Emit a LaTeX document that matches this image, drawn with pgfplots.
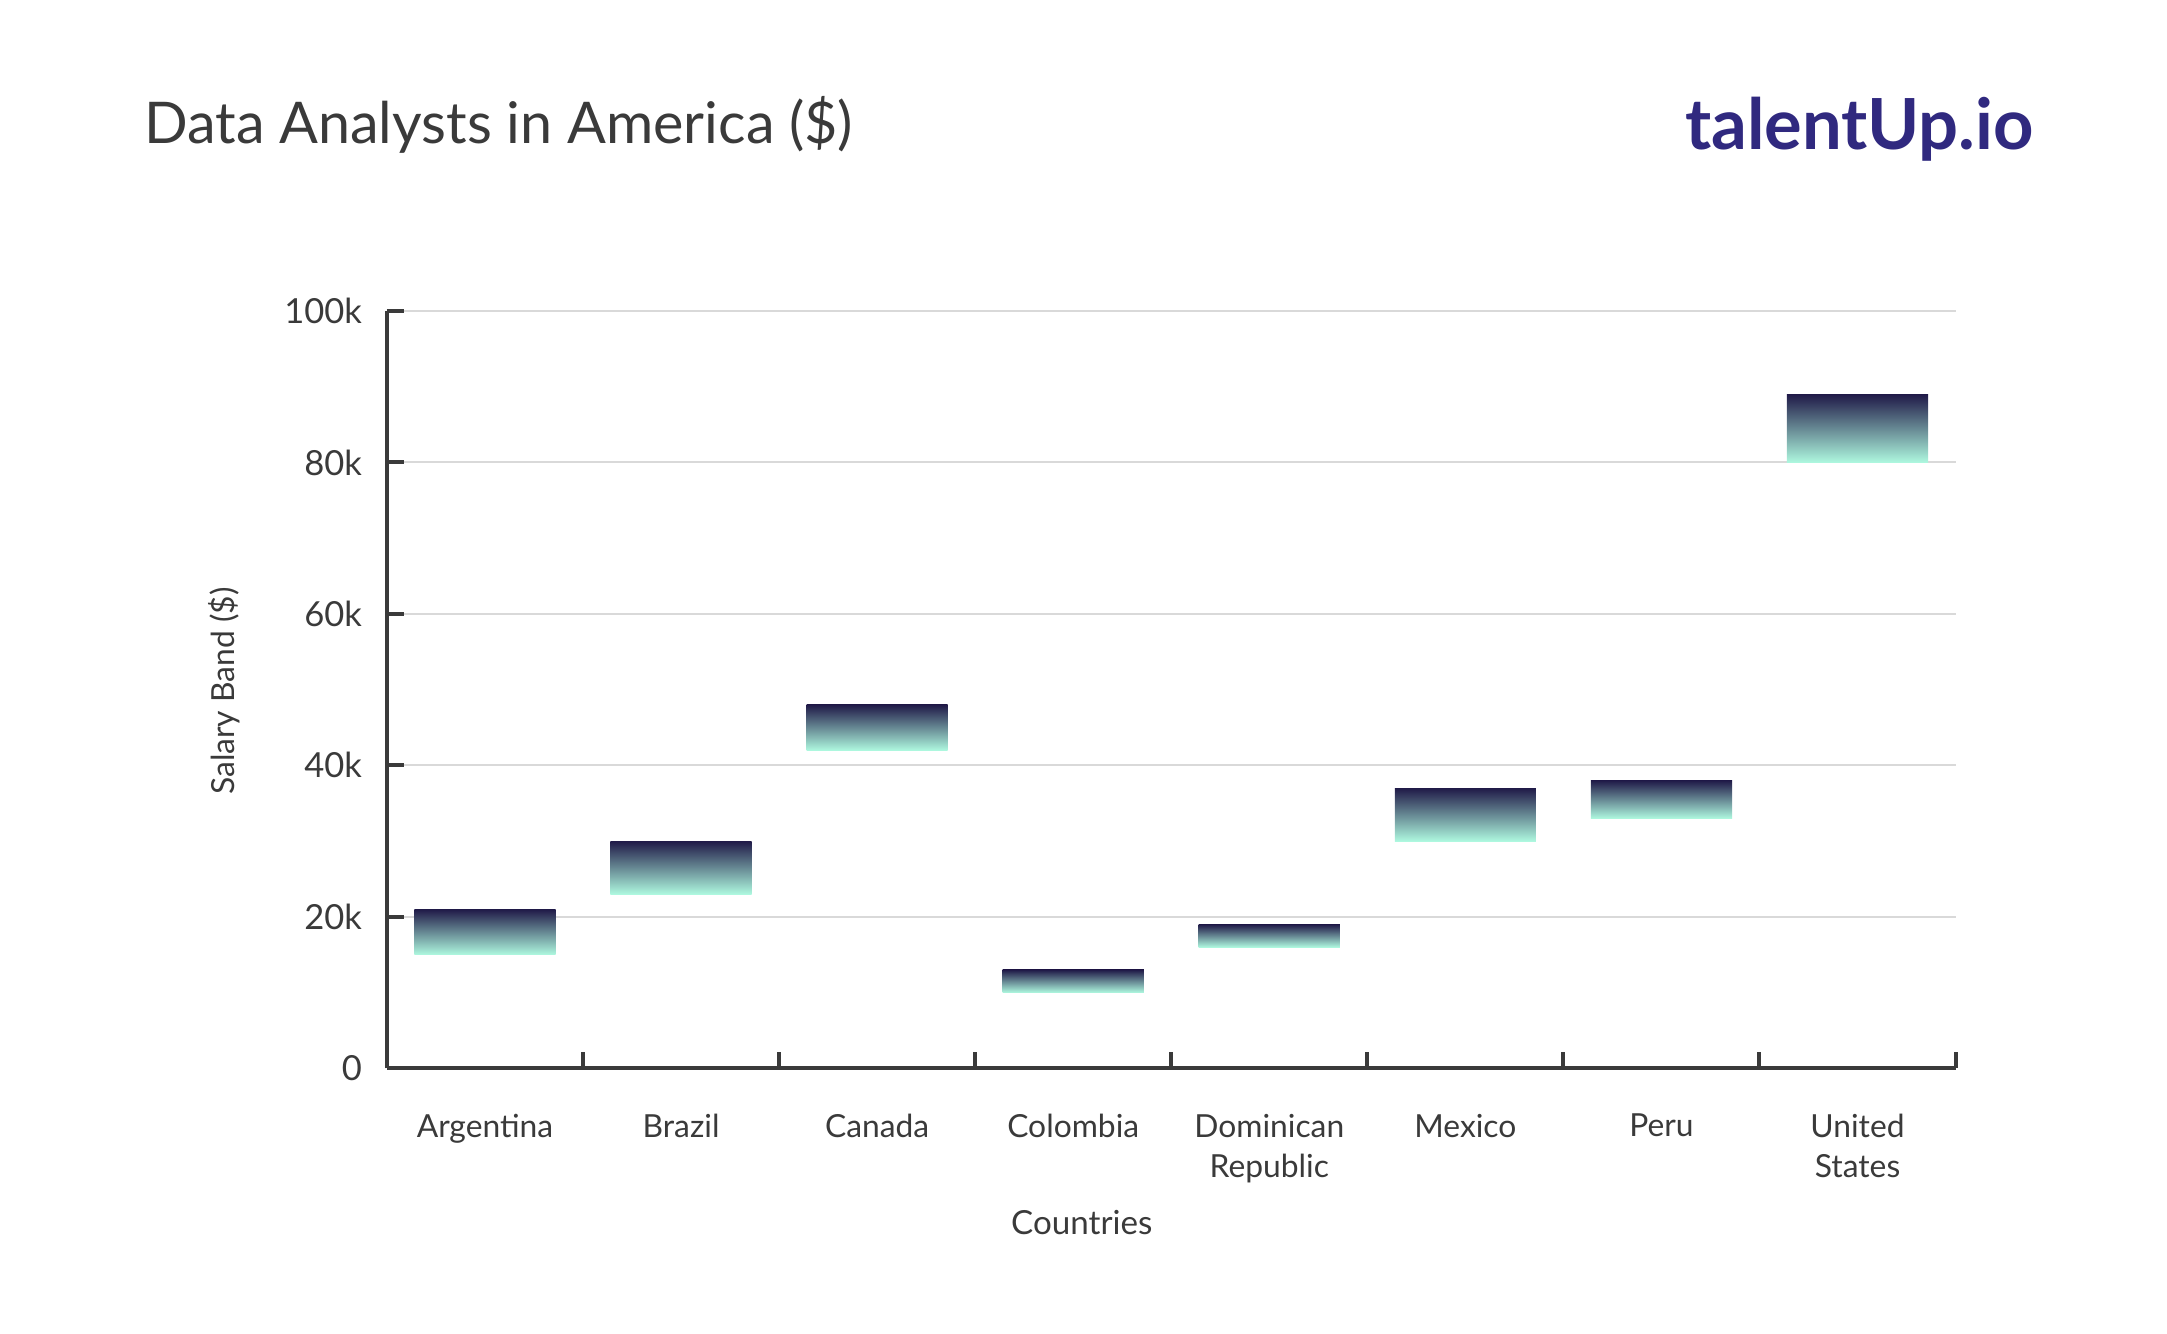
\documentclass[border=0pt]{standalone}
\usepackage{fontspec}
\setmainfont{Lato}
\usepackage{pgfplots}
\pgfplotsset{compat=1.18}
\definecolor{txt}{HTML}{3A3A3A}
\definecolor{axisc}{HTML}{3A3A3A}
\definecolor{gridc}{HTML}{D9D9D9}
\definecolor{barTop}{HTML}{201A48}
\definecolor{barBot}{HTML}{AEF8DF}
\definecolor{logoc}{HTML}{30297F}
\tikzset{band/.style={draw=none, mark=none, top color=barTop, bottom color=barBot}}

\begin{document}
\begin{tikzpicture}
\path[use as bounding box] (0,0) rectangle (784pt,482.5pt);
\begin{axis}[
  at={(140pt,96pt)}, anchor=south west,
  scale only axis, width=567.5pt, height=274pt,
  xmin=-0.5, xmax=7.5, ymin=0, ymax=100000,
  axis lines=left,
  axis line style={-, line width=1.45pt, draw=axisc},
  ytick={0,20000,40000,60000,80000,100000},
  yticklabels={0,20k,40k,60k,80k,100k},
  scaled y ticks=false,
  xtick={0.5,1.5,2.5,3.5,4.5,5.5,6.5,7.5},
  xticklabels={Argentina,Brazil,Canada,Colombia,{Dominican\\Republic},Mexico,Peru,{United\\States}},
  xticklabel style={xshift=-35.47pt, align=center, anchor=north, yshift=-13pt,
    font=\fontsize{11.5}{14.5}\selectfont, text=txt},
  yticklabel style={font=\fontsize{12.5}{15}\selectfont, text=txt, xshift=-5.5pt},
  tick align=inside, major tick length=6pt,
  tick style={line width=1.45pt, draw=axisc},
  ymajorgrids, grid style={line width=0.7pt, draw=gridc},
  xlabel={Countries},
  xlabel style={at={(axis description cs:0.443,-0.203)}, anchor=center,
    font=\fontsize{12}{14}\selectfont, text=txt},
  ylabel={Salary Band (\$)},
  ylabel style={at={(axis description cs:-0.104,0.498)}, anchor=center,
    font=\fontsize{11.5}{14}\selectfont, text=txt},
]
% Argentina 15k-21k
\addplot[band] coordinates {(-0.36,15000) (0.36,15000) (0.36,21000) (-0.36,21000)} -- cycle;
% Brazil 23k-30k
\addplot[band] coordinates {(0.64,23000) (1.36,23000) (1.36,30000) (0.64,30000)} -- cycle;
% Canada 42k-48k
\addplot[band] coordinates {(1.64,42000) (2.36,42000) (2.36,48000) (1.64,48000)} -- cycle;
% Colombia 10k-13k
\addplot[band] coordinates {(2.64,10000) (3.36,10000) (3.36,13000) (2.64,13000)} -- cycle;
% Dominican Republic 16k-19k
\addplot[band] coordinates {(3.64,16000) (4.36,16000) (4.36,19000) (3.64,19000)} -- cycle;
% Mexico 30k-37k
\addplot[band] coordinates {(4.64,30000) (5.36,30000) (5.36,37000) (4.64,37000)} -- cycle;
% Peru 33k-38k
\addplot[band] coordinates {(5.64,33000) (6.36,33000) (6.36,38000) (5.64,38000)} -- cycle;
% United States 80k-89k
\addplot[band] coordinates {(6.64,80000) (7.36,80000) (7.36,89000) (6.64,89000)} -- cycle;
\end{axis}
\node[anchor=base west, inner sep=0, text=txt, font=\fontsize{20.8}{24}\selectfont] at (52pt,430.5pt) {Data Analysts in America (\$)};
\node[anchor=base east, inner sep=0, text=logoc, font=\fontsize{25.5}{30}\selectfont\bfseries] at (736pt,428.5pt) {talentUp.io};
\end{tikzpicture}
\end{document}
